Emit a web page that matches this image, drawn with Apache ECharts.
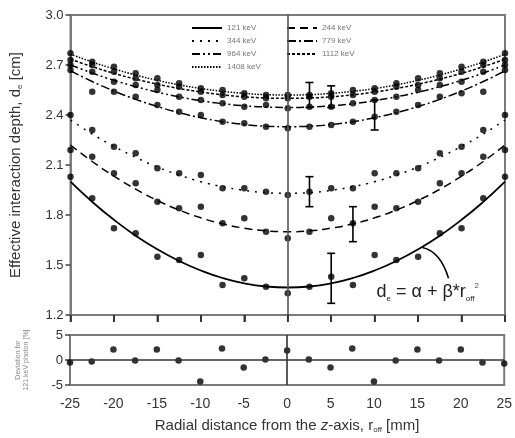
<!DOCTYPE html>
<html>
<head>
<meta charset="utf-8">
<script src="https://cdn.jsdelivr.net/npm/echarts@6/dist/echarts.min.js"></script>
<style>html,body{margin:0;padding:0;background:#fff}#c{width:515px;height:438px}</style>
</head>
<body>
<div id="c"></div>
<script>
// radial positions [mm]
const rVals = [-25,-22.5,-20,-17.5,-15,-12.5,-10,-7.5,-5,-2.5,0,2.5,5,7.5,10,12.5,15,17.5,20,22.5,25];
const xTicks = [-25,-20,-15,-10,-5,0,5,10,15,20,25];
const yTicks = [1.2,1.5,1.8,2.1,2.4,2.7,3.0];

// measured points (effective interaction depth, cm)
const pts121  = [2.03,1.90,1.72,1.69,1.55,1.53,1.56,1.38,1.42,1.37,1.33,1.37,1.43,1.38,1.56,1.53,1.55,1.69,1.72,1.90,2.03];
const pts244  = [2.19,2.15,2.05,1.99,1.88,1.84,1.85,1.75,1.78,1.70,1.66,1.70,1.78,1.75,1.85,1.84,1.88,1.99,2.05,2.15,2.19];
const pts344  = [2.40,2.31,2.21,2.17,2.08,2.05,2.04,1.96,1.96,1.94,1.92,1.94,1.96,1.96,2.05,2.05,2.08,2.17,2.21,2.31,2.40];
const pts779  = [2.67,2.54,2.54,2.51,2.46,2.42,2.40,2.36,2.35,2.33,2.32,2.33,2.34,2.36,2.39,2.42,2.46,2.51,2.53,2.54,2.67];
const pts964  = [2.70,2.66,2.60,2.58,2.55,2.51,2.49,2.47,2.45,2.46,2.44,2.45,2.45,2.47,2.49,2.51,2.55,2.58,2.60,2.66,2.70];
const pts1112 = [2.73,2.70,2.66,2.62,2.58,2.57,2.54,2.52,2.51,2.50,2.50,2.51,2.51,2.52,2.54,2.57,2.58,2.62,2.66,2.70,2.73];
const pts1408 = [2.77,2.72,2.69,2.65,2.62,2.59,2.56,2.55,2.53,2.52,2.52,2.52,2.53,2.55,2.56,2.59,2.62,2.65,2.69,2.72,2.77];

// fitted curves
const fit121  = [2.000,1.879,1.771,1.676,1.594,1.524,1.467,1.422,1.390,1.371,1.365,1.371,1.390,1.422,1.467,1.524,1.594,1.676,1.771,1.879,2.000];
const fit244  = [2.220,2.121,2.033,1.955,1.887,1.830,1.783,1.747,1.721,1.705,1.700,1.705,1.721,1.747,1.783,1.830,1.887,1.955,2.033,2.121,2.220];
const fit344  = [2.370,2.286,2.212,2.146,2.088,2.040,2.000,1.970,1.948,1.934,1.930,1.934,1.948,1.970,2.000,2.040,2.088,2.146,2.212,2.286,2.370];
const fit779  = [2.665,2.601,2.544,2.494,2.451,2.414,2.384,2.360,2.343,2.333,2.330,2.333,2.343,2.360,2.384,2.414,2.451,2.494,2.544,2.601,2.665];
const fit964  = [2.700,2.652,2.608,2.570,2.537,2.509,2.486,2.468,2.455,2.448,2.445,2.448,2.455,2.468,2.486,2.509,2.537,2.570,2.608,2.652,2.700];
const fit1112 = [2.735,2.690,2.650,2.615,2.585,2.559,2.538,2.521,2.509,2.502,2.500,2.502,2.509,2.521,2.538,2.559,2.585,2.615,2.650,2.690,2.735];
const fit1408 = [2.765,2.718,2.677,2.640,2.608,2.581,2.559,2.542,2.530,2.522,2.520,2.522,2.530,2.542,2.559,2.581,2.608,2.640,2.677,2.718,2.765];

// error bars
const errR    = [2.5, 5, 10, 2.5, 7.5, 5];
const errMid  = [2.52, 2.51, 2.40, 1.94, 1.745, 1.42];
const errHalf = [0.075, 0.065, 0.09, 0.09, 0.105, 0.15];

// deviation for 121 keV photon [%]
const dev121 = [-0.5,-0.3,2.1,-0.1,2.1,-0.1,-4.3,2.3,-1.5,0.1,1.9,0.1,-1.5,2.3,-4.3,-0.1,2.1,-0.1,2.1,-0.5,-0.7];

const names = ['121 keV','244 keV','344 keV','779 keV','964 keV','1112 keV','1408 keV'];
const fits = [fit121,fit244,fit344,fit779,fit964,fit1112,fit1408];
const pts = [pts121,pts244,pts344,pts779,pts964,pts1112,pts1408];
const dashes = ['solid',[8,5],[2,6],[9,3,2,3],[8,3,2,3,2,3],[3,2],[1.5,1.5]];

const pair = (xs, ys) => xs.map((x,i)=>[x, ys[i]]);
const axisCol = '#7a7a7a';
const txtCol = '#333';
const FONT = 'Liberation Sans, Arial, sans-serif';

const series = [];
names.forEach((n,i)=>{
  series.push({
    name: n, type:'line', xAxisIndex:0, yAxisIndex:0,
    data: pair(rVals, fits[i]), smooth: true, showSymbol:false, symbol:'none',
    lineStyle:{color:'#000', width: i===0?1.8:1.5, type: dashes[i]},
    itemStyle:{color:'#000'}, z:3, silent:true
  });
});
pts.forEach((p,i)=>{
  series.push({
    name: 'pts'+i, type:'scatter', xAxisIndex:0, yAxisIndex:0,
    data: pair(rVals, p), symbol:'circle', symbolSize:6.5,
    itemStyle:{color:'#000'}, z:4, silent:true
  });
});
series.push({
  name:'err', type:'custom', xAxisIndex:0, yAxisIndex:0,
  data: errR.map((x,i)=>[x, errMid[i]-errHalf[i], errMid[i]+errHalf[i]]),
  renderItem: function(params, api){
    const lo = api.coord([api.value(0), api.value(1)]);
    const hi = api.coord([api.value(0), api.value(2)]);
    const w = 4;
    const st = {stroke:'#000', lineWidth:1.6};
    return {type:'group', children:[
      {type:'line', shape:{x1:lo[0],y1:lo[1],x2:hi[0],y2:hi[1]}, style:st},
      {type:'line', shape:{x1:lo[0]-w,y1:lo[1],x2:lo[0]+w,y2:lo[1]}, style:st},
      {type:'line', shape:{x1:hi[0]-w,y1:hi[1],x2:hi[0]+w,y2:hi[1]}, style:st}
    ]};
  }, z:5, silent:true
});
// zero lines
series.push({
  name:'zero0', type:'line', xAxisIndex:0, yAxisIndex:0, data:[], silent:true,
  markLine:{silent:true, symbol:'none', label:{show:false},
    lineStyle:{color:'#555', width:1.6, type:'solid'}, data:[{xAxis:0}]}
});
series.push({
  name:'dev', type:'scatter', xAxisIndex:1, yAxisIndex:1,
  data: pair(rVals, dev121), symbolSize:6.5, itemStyle:{color:'#000'}, silent:true,
  markLine:{silent:true, symbol:'none', label:{show:false},
    lineStyle:{color:'#333', width:1.6, type:'solid'}, data:[{xAxis:0},{yAxis:0}]}
});

const legendCommon = {
  orient:'vertical', top:19, itemWidth:30, itemHeight:8, itemGap:5,
  itemStyle:{opacity:0, borderWidth:0},
  textStyle:{fontSize:8, color:'#777', fontFamily:FONT}
};

const chart = echarts.init(document.getElementById('c'), null, {renderer:'canvas'});
chart.setOption({
  animation:false,
  backgroundColor:'#fff',
  textStyle:{fontFamily: FONT},
  grid:[
    {left:70, right:10, top:15, height:300, show:true, borderColor:axisCol, borderWidth:2},
    {left:70, right:10, top:335, height:50, show:true, borderColor:axisCol, borderWidth:2}
  ],
  legend:[
    Object.assign({data:['121 keV','344 keV','964 keV','1408 keV'], left:186}, legendCommon),
    Object.assign({data:['244 keV','779 keV','1112 keV'], left:281}, legendCommon)
  ],
  xAxis:[
    {type:'value', gridIndex:0, min:-25, max:25, interval:5,
     axisLine:{show:true, onZero:false, lineStyle:{color:axisCol, width:2}},
     axisTick:{show:true, inside:false, length:7, lineStyle:{color:'#222', width:1.6}},
     axisLabel:{show:false}, splitLine:{show:false}},
    {type:'value', gridIndex:1, min:-25, max:25, interval:5,
     axisLine:{show:true, onZero:false, lineStyle:{color:axisCol, width:2}},
     axisTick:{show:false},
     axisLabel:{show:true, fontSize:14, color:txtCol, margin:12,
       formatter: v => xTicks.includes(v) ? String(v) : ''},
     splitLine:{show:false},
     name:'Radial distance from the {it|z}-axis, r{sub|off} [mm]', nameLocation:'middle', nameGap:33,
     nameTextStyle:{fontSize:15, color:txtCol, rich:{
       it:{fontStyle:'italic', fontSize:15, color:txtCol},
       sub:{fontSize:8, verticalAlign:'bottom', padding:[8,0,0,0], color:txtCol}}}}
  ],
  yAxis:[
    {type:'value', gridIndex:0, min:1.2, max:3.0, interval:0.3,
     axisLine:{show:true, onZero:false, lineStyle:{color:axisCol, width:2}},
     axisTick:{show:true, inside:false, length:5, lineStyle:{color:'#444', width:1.5}},
     axisLabel:{fontSize:13, color:txtCol, margin:7, formatter: v => v.toFixed(1)},
     splitLine:{show:false},
     name:'Effective interaction depth, d{sub|e} [cm]', nameLocation:'middle', nameGap:47, nameRotate:90,
     nameTextStyle:{fontSize:15, color:txtCol, rich:{
       sub:{fontSize:8, color:txtCol, padding:[8,0,0,0]}}}},
    {type:'value', gridIndex:1, min:-5, max:5, interval:5,
     axisLine:{show:true, onZero:false, lineStyle:{color:axisCol, width:2}},
     axisTick:{show:true, inside:false, length:5, lineStyle:{color:'#444', width:1.5}},
     axisLabel:{fontSize:13, color:txtCol, margin:7},
     splitLine:{show:false},
     name:'Deviation for\n121 keV photon [%]', nameLocation:'middle', nameGap:40, nameRotate:90,
     nameTextStyle:{fontSize:7, color:'#888', lineHeight:8}}
  ],
  series: series
});

// annotation anchored to data coordinates
const a = chart.convertToPixel({gridIndex:0}, [15.5, 1.605]);
const b = chart.convertToPixel({gridIndex:0}, [18.5, 1.42]);
// tick marks under the upper panel, positioned through the x scale
const tickGraphics = xTicks.map(v => {
  const p = chart.convertToPixel({gridIndex:0}, [v, yTicks[0]]);
  return {type:'line', z:100, silent:true,
    shape:{x1:p[0], y1:p[1], x2:p[0], y2:p[1]+7},
    style:{stroke:'#333', lineWidth:1.6}};
});
chart.setOption({
  graphic: tickGraphics.concat([
    {type:'bezierCurve', shape:{x1:a[0], y1:a[1], cpx1:a[0]+18, cpy1:a[1]+4, x2:b[0], y2:b[1]},
     style:{stroke:'#000', lineWidth:1.6, fill:null}, silent:true},
    {type:'text', left:b[0]-72, top:b[1]+3,
     style:{text:'d{sub|e} = α + β*r{sub|off}{sup|2}', fontSize:18, fill:'#222', fontFamily:FONT,
       rich:{sub:{fontSize:8, fill:'#222', padding:[12,0,0,0]}, sup:{fontSize:8, fill:'#555', padding:[0,0,14,0]}}}}
  ])
});
</script>
</body>
</html>
